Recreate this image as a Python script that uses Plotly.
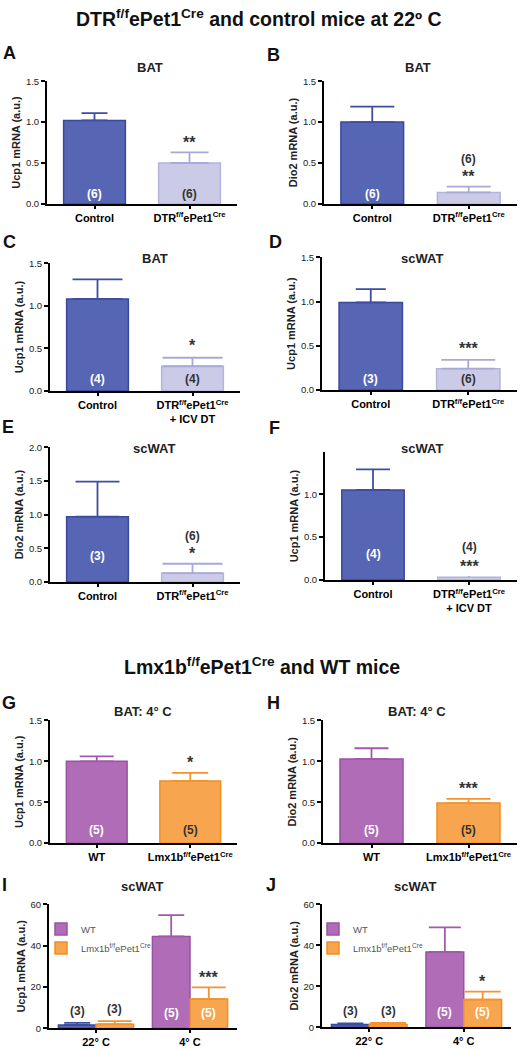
import plotly.graph_objects as go

W, H = 527, 1050
FONT = "Liberation Sans, Arial, Helvetica, sans-serif"

# ---------------- data ----------------
cats_dtr = ["Control", "DTR<sup>f/f</sup>ePet1<sup>Cre</sup>"]
cats_dtr_icv = ["Control", "DTR<sup>f/f</sup>ePet1<sup>Cre</sup><br>+ ICV DT"]
cats_lmx = ["WT", "Lmx1b<sup>f/f</sup>ePet1<sup>Cre</sup>"]
cats_temp = ["22° C", "4° C"]
legend_names = ["WT", "Lmx1b<sup>f/f</sup>ePet1<sup>Cre</sup>"]

ticks_15 = [0.0, 0.5, 1.0, 1.5]
ticks_10 = [0.0, 0.5, 1.0]
ticks_20 = [0.0, 0.5, 1.0, 1.5, 2.0]
ticks_60 = [0, 20, 40, 60]

a_mean = [1.02, 0.50]; a_sem = [0.09, 0.13]; a_n = ["(6)", "(6)"]; a_sig = "**"
b_mean = [1.00, 0.14]; b_sem = [0.19, 0.07]; b_n = ["(6)", "(6)"]; b_sig = "**"
c_mean = [1.08, 0.29]; c_sem = [0.23, 0.10]; c_n = ["(4)", "(4)"]; c_sig = "*"
d_mean = [0.99, 0.24]; d_sem = [0.15, 0.10]; d_n = ["(3)", "(6)"]; d_sig = "***"
e_mean = [0.97, 0.13]; e_sem = [0.52, 0.14]; e_n = ["(3)", "(6)"]; e_sig = "*"
f_mean = [1.05, 0.03]; f_sem = [0.24, 0.015]; f_n = ["(4)", "(4)"]; f_sig = "***"
g_mean = [1.00, 0.76]; g_sem = [0.06, 0.10]; g_n = ["(5)", "(5)"]; g_sig = "*"
h_mean = [1.03, 0.49]; h_sem = [0.13, 0.05]; h_n = ["(5)", "(5)"]; h_sig = "***"

i_wt = [1.6, 44.5]; i_wt_sem = [1.0, 10.3]
i_lmx = [1.9, 14.2]; i_lmx_sem = [1.5, 5.6]
i_n = ["(3)", "(5)"]; i_sig = ["", "***"]

j_wt = [1.3, 36.8]; j_wt_sem = [0.6, 12.0]
j_lmx = [1.3, 13.5]; j_lmx_sem = [0.8, 3.9]
j_n = ["(3)", "(5)"]; j_sig = ["", "*"]

# ---------------- styles ----------------
BLUE = "#5766b4"; BLUE_LINE = "#3a489c"; BLUE_ERR = "#3f4da0"
LAV = "#cbcbe8"; LAV_LINE = "#b3b3de"; LAV_ERR = "#a9a9d8"
PUR = "#b06cb6"; PUR_LINE = "#9a52a2"; PUR_ERR = "#a259a9"
ORA = "#f7a54e"; ORA_LINE = "#f28d22"; ORA_ERR = "#f39430"
DARK = "#333333"

fig = go.Figure()
annotations = []
layout_axes = {}


def sfx(k):
    return "" if k == 1 else str(k)


def add_axes(k, xdom, ydom, yrange, tickvals, tickfmt, ytitle, cats):
    s = sfx(k)
    layout_axes["xaxis" + s] = dict(
        domain=[xdom[0] / W, xdom[1] / W], anchor="y" + s, type="category",
        categoryorder="array", categoryarray=cats, range=[-0.5, 1.5],
        showline=True, linecolor="black", linewidth=2, ticks="outside",
        ticklen=3, tickwidth=1.5, tickcolor="black", showgrid=False,
        zeroline=False, fixedrange=True,
        tickfont=dict(family=FONT, size=11, color="black", weight="bold"))
    layout_axes["yaxis" + s] = dict(
        domain=[1 - ydom[1] / H, 1 - ydom[0] / H], anchor="x" + s,
        range=yrange, tickvals=tickvals, tickformat=tickfmt,
        showline=True, linecolor="black", linewidth=2, ticks="outside",
        ticklen=4, tickwidth=1.5, tickcolor="black", showgrid=False,
        zeroline=False, fixedrange=True,
        tickfont=dict(family=FONT, size=9.5, color="#222222"),
        title=dict(text=ytitle, standoff=3,
                   font=dict(family=FONT, size=11, color="#222222", weight="bold")))


def add_text(text, x, y, size, color="#222222", weight="bold", xref="paper",
             yref="paper", yanchor="middle", yshift=0):
    annotations.append(dict(
        text=text, x=x, y=y, xref=xref, yref=yref, showarrow=False,
        xanchor="center", yanchor=yanchor, yshift=yshift,
        font=dict(family=FONT, size=size, color=color, weight=weight)))


def panel_labels(title, tpos, letter, lpos):
    add_text(title, tpos[0] / W, 1 - tpos[1] / H, 13)
    add_text(letter, lpos[0] / W, 1 - lpos[1] / H, 18, color="#111111")


def two_bar(k, cats, means, sems, ns, sig, styles, caps, n_in_shift,
            n_above, sig_shift=10, nab_shift=28):
    s = sfx(k)
    for i in range(2):
        fill, line, err, ncol = styles[i]
        fig.add_trace(go.Bar(
            x=[cats[i]], y=[means[i]], width=0.65, xaxis="x" + s, yaxis="y" + s,
            marker=dict(color=fill, line=dict(color=line, width=1.5)),
            error_y=dict(type="data", symmetric=False, array=[sems[i]],
                         arrayminus=[0], color=err, thickness=1.8, width=caps[i]),
            showlegend=False, hoverinfo="skip"))
        top = means[i] + sems[i]
        if i == 1 and n_above:
            add_text(ns[i], cats[i], top, 12, color=DARK, xref="x" + s, yref="y" + s,
                     yshift=nab_shift)
        else:
            add_text(ns[i], cats[i], 0, 12, color=ncol if i == 0 else DARK,
                     xref="x" + s, yref="y" + s, yshift=n_in_shift)
    add_text(sig, cats[1], means[1] + sems[1], 16, color=DARK, xref="x" + s,
             yref="y" + s, yshift=sig_shift)


dtr_styles = [(BLUE, BLUE_LINE, BLUE_ERR, "white"), (LAV, LAV_LINE, LAV_ERR, DARK)]
lmx_styles = [(PUR, PUR_LINE, PUR_ERR, "white"), (ORA, ORA_LINE, ORA_ERR, "white")]

# ---- A ----
add_axes(1, (47, 237), (76, 200), [0, 1.5], ticks_15, ".1f", "Ucp1 mRNA (a.u.)", cats_dtr)
two_bar(1, cats_dtr, a_mean, a_sem, a_n, a_sig, dtr_styles, (13, 19), 10, False)
panel_labels("BAT", (150, 62), "A", (9, 47))
# ---- B ----
add_axes(2, (324, 517), (76, 200), [0, 1.5], ticks_15, ".1f", "Dio2 mRNA (a.u.)", cats_dtr)
two_bar(2, cats_dtr, b_mean, b_sem, b_n, b_sig, dtr_styles, (22, 22), 10, True)
panel_labels("BAT", (418, 62), "B", (273, 50))
# ---- C ----
add_axes(3, (50, 240), (260, 389), [0, 1.5], ticks_15, ".1f", "Ucp1 mRNA (a.u.)", cats_dtr_icv)
two_bar(3, cats_dtr_icv, c_mean, c_sem, c_n, c_sig, dtr_styles, (25, 30), 12, False, sig_shift=12)
panel_labels("BAT", (155, 255), "C", (9, 238))
# ---- D ----
add_axes(4, (322, 517), (254, 388), [0, 1.5], ticks_15, ".1f", "Ucp1 mRNA (a.u.)", cats_dtr)
two_bar(4, cats_dtr, d_mean, d_sem, d_n, d_sig, dtr_styles, (15, 27), 11, False, sig_shift=11)
panel_labels("scWAT", (422, 255), "D", (275, 238))
# ---- E ----
add_axes(5, (50, 240), (446, 582), [0, 2.0], ticks_20, ".1f", "Dio2 mRNA (a.u.)", cats_dtr)
two_bar(5, cats_dtr, e_mean, e_sem, e_n, e_sig, dtr_styles, (22, 30), 26, True)
panel_labels("scWAT", (154, 447), "E", (8, 425))
# ---- F ----
add_axes(6, (325, 517), (451, 580), [0, 1.49], ticks_10, ".1f", "Ucp1 mRNA (a.u.)", cats_dtr_icv)
two_bar(6, cats_dtr_icv, f_mean, f_sem, f_n, f_sig, dtr_styles, (17, 0), 26, True, nab_shift=29)
panel_labels("scWAT", (422, 447), "F", (274, 426))
# ---- G ----
add_axes(7, (50, 237), (722, 846), [0, 1.5], ticks_15, ".1f", "Ucp1 mRNA (a.u.)", cats_lmx)
two_bar(7, cats_lmx, g_mean, g_sem, g_n, g_sig, lmx_styles, (17, 18), 13, False)
panel_labels("BAT: 4° C", (143, 713), "G", (9, 704))
# ---- H ----
add_axes(8, (323, 517), (722, 846), [0, 1.5], ticks_15, ".1f", "Dio2 mRNA (a.u.)", cats_lmx)
two_bar(8, cats_lmx, h_mean, h_sem, h_n, h_sig, lmx_styles, (17, 22), 13, False)
panel_labels("BAT: 4° C", (417, 713), "H", (273, 704))


def group_panel(k, wt, wt_sem, lmx, lmx_sem, ns, sig, legend, caps, n_in_shift):
    s = sfx(k)
    bw = 0.4
    # WT bars (22° C drawn in blue, 4° C in purple)
    for i, (fill, line, err) in enumerate([(BLUE, BLUE_LINE, BLUE_ERR),
                                           (PUR, PUR_LINE, PUR_ERR)]):
        fig.add_trace(go.Bar(
            x=[cats_temp[i]], y=[wt[i]], width=bw, offset=-bw,
            xaxis="x" + s, yaxis="y" + s, name=legend_names[0],
            marker=dict(color=fill, line=dict(color=line, width=1.5)),
            error_y=dict(type="data", symmetric=False, array=[wt_sem[i]],
                         arrayminus=[0], color=err, thickness=1.8, width=caps[0][i]),
            showlegend=(i == 1), legend=legend, hoverinfo="skip"))
    fig.add_trace(go.Bar(
        x=cats_temp, y=lmx, width=bw, offset=0, xaxis="x" + s, yaxis="y" + s,
        name=legend_names[1],
        marker=dict(color=ORA, line=dict(color=ORA_LINE, width=1.5)),
        error_y=dict(type="data", symmetric=False, array=lmx_sem,
                     arrayminus=[0, 0], color=ORA_ERR, thickness=1.8, width=caps[1]),
        showlegend=True, legend=legend, hoverinfo="skip"))
    # n labels
    for i in range(2):
        for j, (m, e) in enumerate([(wt[i], wt_sem[i]), (lmx[i], lmx_sem[i])]):
            xpos = i + (-bw / 2 if j == 0 else bw / 2)
            if i == 0:
                add_text(ns[i], xpos, m + e, 12, color=DARK, xref="x" + s,
                         yref="y" + s, yshift=12)
            else:
                add_text(ns[i], xpos, 0, 12, color="white", xref="x" + s,
                         yref="y" + s, yshift=n_in_shift)
        if sig[i]:
            add_text(sig[i], i + bw / 2, lmx[i] + lmx_sem[i], 16, color=DARK,
                     xref="x" + s, yref="y" + s, yshift=10)


# ---- I ----
add_axes(9, (49, 237), (908, 1033), [0, 60], ticks_60, "d", "Ucp1 mRNA (a.u.)", cats_temp)
group_panel(9, i_wt, i_wt_sem, i_lmx, i_lmx_sem, i_n, i_sig, "legend2",
            ((13, 13), 17), 15)
panel_labels("scWAT", (142, 890), "I", (4, 888))
# ---- J ----
add_axes(10, (322, 511), (908, 1032), [0, 60], ticks_60, "d", "Dio2 mRNA (a.u.)", cats_temp)
group_panel(10, j_wt, j_wt_sem, j_lmx, j_lmx_sem, j_n, j_sig, "legend3",
            ((13, 16), 18), 15)
panel_labels("scWAT", (415, 890), "J", (271, 888))

# ---- section titles ----
add_text("DTR<sup>f/f</sup>ePet1<sup>Cre</sup> and control mice at 22º C",
         259 / W, 1 - 12 / H, 19.5, color="#111111")
add_text("Lmx1b<sup>f/f</sup>ePet1<sup>Cre</sup> and WT mice",
         262 / W, 1 - 667 / H, 19.5, color="#111111")

leg = dict(bgcolor="rgba(0,0,0,0)", borderwidth=0, xanchor="left", yanchor="top",
           font=dict(family=FONT, size=9.5, color="#555555"), tracegroupgap=0,
           itemclick=False, itemdoubleclick=False)

fig.update_layout(
    width=W, height=H, margin=dict(l=0, r=0, t=0, b=0),
    paper_bgcolor="white", plot_bgcolor="white", barmode="overlay",
    showlegend=True,
    legend2=dict(leg, x=41 / W, y=1 - 918 / H),
    legend3=dict(leg, x=313 / W, y=1 - 918 / H),
    annotations=annotations,
    font=dict(family=FONT),
    **layout_axes)

fig.write_html("out.html", config={"displayModeBar": False},
               post_script="document.body.style.margin='0px';")
